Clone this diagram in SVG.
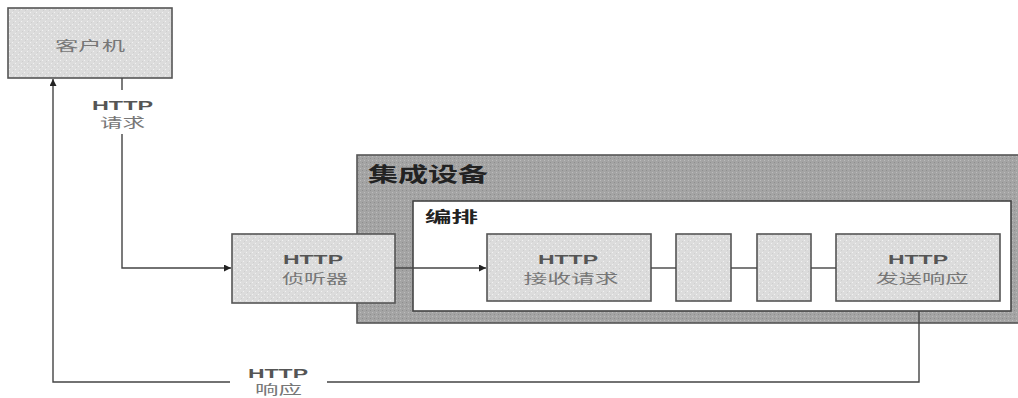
<svg xmlns="http://www.w3.org/2000/svg" width="1018" height="398" viewBox="0 0 1018 398">
<defs>
<pattern id="lt" width="6" height="6" patternUnits="userSpaceOnUse">
<rect width="6" height="6" fill="#dcdcdc"/>
<rect x="0" y="0" width="1" height="1" fill="#f2f2f2"/>
<rect x="3" y="3" width="1" height="1" fill="#f2f2f2"/>
<rect x="1" y="4" width="1" height="1" fill="#cfcfcf"/>
<rect x="4" y="1" width="1" height="1" fill="#cfcfcf"/>
</pattern>
<pattern id="dk" width="4" height="4" patternUnits="userSpaceOnUse">
<rect width="4" height="4" fill="#a4a4a4"/>
<rect x="0" y="0" width="1" height="1" fill="#bcbcbc"/>
<rect x="2" y="2" width="1" height="1" fill="#8e8e8e"/>
</pattern>
<marker id="ah" viewBox="0 0 10 10" refX="10" refY="5" markerWidth="7" markerHeight="7" markerUnits="userSpaceOnUse" orient="auto">
<path d="M0,0 L10,5 L0,10 z" fill="#222"/>
</marker>
</defs>
<style>
.box{fill:url(#lt);stroke:#555;stroke-width:1.6}
.cont{fill:url(#dk);stroke:#555;stroke-width:1.6}
.inner{fill:#fff;stroke:#444;stroke-width:1.6}
.ln{fill:none;stroke:#444;stroke-width:1.4}
.h{font-family:"Liberation Sans",Arial,sans-serif;font-weight:bold;font-size:13px;fill:#555;text-anchor:middle}
.c{font-family:"Noto Sans CJK SC","Noto Sans",sans-serif;font-size:13px;fill:#777;text-anchor:middle}
.t{font-family:"Noto Sans CJK SC","Noto Sans",sans-serif;font-weight:bold;fill:#222}
</style>
<rect width="1018" height="398" fill="#fff"/>

<g id="integration-device">
<rect class="cont" x="357" y="155" width="662" height="168"/>
<text class="t" x="368" y="182" font-size="20" textLength="120" lengthAdjust="spacingAndGlyphs">集成设备</text>
</g>
<g id="orchestration">
<rect class="inner" x="413" y="201" width="598" height="110"/>
<text class="t" x="425" y="222" font-size="15" textLength="53" lengthAdjust="spacingAndGlyphs">编排</text>
</g>

<g id="client">
<rect class="box" x="8" y="8" width="164" height="70"/>
<text class="c" x="90" y="50" font-size="13" textLength="70" lengthAdjust="spacingAndGlyphs">客户机</text>
</g>

<g id="listener">
<rect class="box" x="232" y="234" width="163" height="69"/>
<text class="h" x="313" y="264" textLength="60" lengthAdjust="spacingAndGlyphs">HTTP</text>
<text class="c" x="315" y="283" textLength="66" lengthAdjust="spacingAndGlyphs">侦听器</text>
</g>

<g id="receive">
<rect class="box" x="487" y="234" width="164" height="67"/>
<text class="h" x="568" y="264" textLength="60" lengthAdjust="spacingAndGlyphs">HTTP</text>
<text class="c" x="571" y="283" textLength="95" lengthAdjust="spacingAndGlyphs">接收请求</text>
</g>

<g id="step1">
<rect class="box" x="676" y="234" width="55" height="67"/>
</g>
<g id="step2">
<rect class="box" x="757" y="234" width="54" height="67"/>
</g>

<g id="send">
<rect class="box" x="836" y="234" width="164" height="67"/>
<text class="h" x="918" y="264" textLength="60" lengthAdjust="spacingAndGlyphs">HTTP</text>
<text class="c" x="922" y="283" textLength="93" lengthAdjust="spacingAndGlyphs">发送响应</text>
</g>

<g id="connectors">
<path class="ln" d="M122,78 V90"/>
<path class="ln" d="M122,134 V268 H231" marker-end="url(#ah)"/>
<path class="ln" d="M395,268 H486" marker-end="url(#ah)"/>
<path class="ln" d="M651,268 H676"/>
<path class="ln" d="M731,268 H757"/>
<path class="ln" d="M811,268 H836"/>
<path class="ln" d="M919,311 V382 H327"/>
<path class="ln" d="M230,382 H53 V79" marker-end="url(#ah)"/>
<text class="h" x="122.5" y="110" textLength="61" lengthAdjust="spacingAndGlyphs">HTTP</text>
<text class="c" x="122.5" y="127" font-size="13" textLength="45" lengthAdjust="spacingAndGlyphs">请求</text>
<text class="h" x="278" y="378" textLength="60" lengthAdjust="spacingAndGlyphs">HTTP</text>
<text class="c" x="278.5" y="394" font-size="12" textLength="47" lengthAdjust="spacingAndGlyphs">响应</text>
</g>
</svg>
